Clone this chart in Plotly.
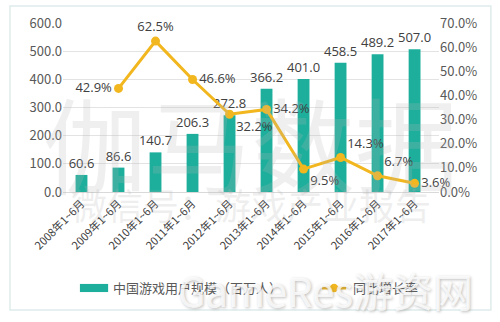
import plotly.graph_objects as go

# Half-year periods
periods = ["2008年1~6月", "2009年1~6月", "2010年1~6月", "2011年1~6月", "2012年1~6月",
           "2013年1~6月", "2014年1~6月", "2015年1~6月", "2016年1~6月", "2017年1~6月"]
# China game users (millions)
users = [60.6, 86.6, 140.7, 206.3, 272.8, 366.2, 401.0, 458.5, 489.2, 507.0]
# Year-on-year growth (%) from 2009 onward
growth_periods = periods[1:]
growth = [42.9, 62.5, 46.6, 32.2, 34.2, 9.5, 14.3, 6.7, 3.6]
growth_pos = ["middle left", "top center", "middle right", "bottom right", "middle right",
              "bottom right", "top right", "top right", "middle right"]

BAR_NAME = "中国游戏用户规模（百万人）"
LINE_NAME = "同比增长率"

BAR = "#1DAF9C"
LINE = "#F2B71E"
TXT = "#404040"
FONT = "Noto Sans CJK SC, Noto Sans, sans-serif"
NUMFONT = "Open Sans, sans-serif"

fig = go.Figure()
fig.add_trace(go.Bar(
    x=periods, y=users, name=BAR_NAME,
    marker=dict(color=BAR, line=dict(width=0)), width=0.32,
    text=[f"{v:.1f}" for v in users], textposition="outside", cliponaxis=False,
    constraintext="none",
    textfont=dict(size=13, color=TXT, family=NUMFONT),
))
fig.add_trace(go.Scatter(
    x=growth_periods, y=[g / 100 for g in growth], name=LINE_NAME, yaxis="y2",
    mode="lines+markers+text", line=dict(color=LINE, width=3),
    marker=dict(color=LINE, size=9),
    text=[f"{g:.1f}%" for g in growth], textposition=growth_pos, cliponaxis=False,
    textfont=dict(size=13, color=TXT, family=NUMFONT),
))

# Faint watermark text
fig.add_annotation(x=0.5, y=0.3, xref="paper", yref="paper", text="伽马数据", showarrow=False,
                   font=dict(size=104, color="rgba(180,180,180,0.22)", family=FONT), yanchor="middle")
fig.add_annotation(x=0.5, y=-0.07, xref="paper", yref="paper", text="微信号：游戏产业报告", showarrow=False,
                   font=dict(size=36, color="rgba(180,180,180,0.22)", family=FONT), yanchor="middle")

# Legend drawn by hand: wide bar swatch, line swatch with marker
leg_y = -0.568
fig.add_shape(type="rect", xref="paper", yref="paper", x0=0.045, x1=0.120,
              y0=leg_y - 0.024, y1=leg_y + 0.024, fillcolor=BAR, line=dict(width=0))
fig.add_annotation(x=0.128, y=leg_y, xref="paper", yref="paper", text=BAR_NAME, showarrow=False,
                   xanchor="left", yanchor="middle", font=dict(size=13, color="#595959", family=FONT))
fig.add_shape(type="line", xref="paper", yref="paper", x0=0.689, x1=0.753, y0=leg_y, y1=leg_y,
              line=dict(color=LINE, width=3))
fig.add_shape(type="circle", xref="paper", yref="paper", x0=0.721 - 0.011, x1=0.721 + 0.011,
              y0=leg_y - 0.025, y1=leg_y + 0.025, fillcolor=LINE, line=dict(width=0))
fig.add_annotation(x=0.765, y=leg_y, xref="paper", yref="paper", text=LINE_NAME, showarrow=False,
                   xanchor="left", yanchor="middle", font=dict(size=13, color="#595959", family=FONT))

fig.add_annotation(x=1.096, y=-0.58, xref="paper", yref="paper", text="GameRes游资网", showarrow=False,
                   font=dict(size=40, color="rgba(255,255,255,0.8)", family=FONT,
                             shadow="1px 1px 3px rgba(120,120,120,0.6)"),
                   xanchor="right", yanchor="middle")

# Outer frame
fig.add_shape(type="rect", xref="paper", yref="paper", x0=-0.141, x1=1.138, y0=-0.698, y1=1.10,
              line=dict(color="#dfeceb", width=1.5), layer="below")

fig.update_layout(
    width=500, height=322,
    margin=dict(l=63, r=61, t=23, b=130),
    paper_bgcolor="white", plot_bgcolor="white",
    font=dict(family=FONT, color="#595959"),
    showlegend=False,
    xaxis=dict(tickangle=-45, tickfont=dict(size=11, color="#404040"), showline=True,
               linecolor="#d9d9d9", ticks="", showgrid=False),
    yaxis=dict(range=[0, 600], dtick=100, tickformat=".1f", showgrid=True, gridcolor="#e3e3e3",
               zeroline=False, tickfont=dict(size=13, color="#595959"), ticks=""),
    yaxis2=dict(range=[0, 0.7], dtick=0.1, tickformat=".1%", overlaying="y", side="right",
                showgrid=False, zeroline=False, tickfont=dict(size=13, color="#595959")),
)

fig.write_html("out.html")
